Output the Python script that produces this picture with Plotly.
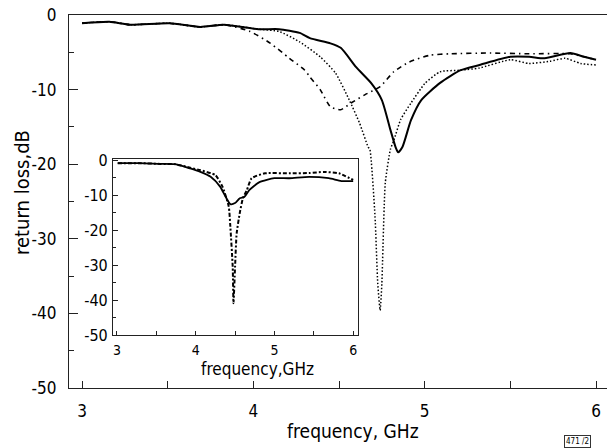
import plotly.graph_objects as go

# ---------------- data ----------------
# main chart
solid_x = [3.00, 3.16, 3.28, 3.51, 3.69, 3.83, 4.03, 4.15, 4.27, 4.33, 4.45, 4.51, 4.60, 4.69, 4.75, 4.80, 4.83, 4.845, 4.87, 4.92, 4.98, 5.09, 5.21, 5.32, 5.50, 5.61, 5.70, 5.85, 5.93, 6.00]
solid_y = [-1.1, -0.9, -1.3, -1.1, -1.6, -1.3, -1.9, -1.9, -2.4, -3.1, -3.8, -4.4, -7.0, -9.2, -11.4, -15.4, -17.7, -18.4, -17.7, -14.1, -11.4, -9.1, -7.4, -6.7, -5.6, -5.6, -5.8, -5.1, -5.6, -6.0]

dot_x = [3.00, 3.16, 3.28, 3.51, 3.69, 3.83, 4.03, 4.15, 4.27, 4.39, 4.48, 4.56, 4.62, 4.67, 4.68, 4.71, 4.726, 4.74, 4.75, 4.77, 4.80, 4.82, 4.86, 4.92, 5.00, 5.09, 5.21, 5.32, 5.50, 5.61, 5.73, 5.82, 5.91, 6.00]
dot_y = [-1.1, -0.9, -1.3, -1.1, -1.6, -1.3, -1.9, -2.2, -3.6, -5.6, -7.8, -11.4, -14.5, -17.7, -18.0, -27.0, -36.0, -39.6, -36.0, -22.5, -18.0, -16.8, -14.0, -11.8, -9.2, -7.6, -7.4, -7.1, -6.0, -6.5, -6.2, -5.8, -6.5, -6.7]

dd_x = [3.00, 3.16, 3.28, 3.51, 3.69, 3.83, 3.98, 4.10, 4.21, 4.30, 4.33, 4.39, 4.45, 4.51, 4.57, 4.65, 4.74, 4.82, 4.91, 5.03, 5.15, 5.38, 5.61, 5.85, 5.93, 6.00]
dd_y = [-1.1, -0.9, -1.3, -1.1, -1.6, -1.3, -2.2, -3.8, -5.8, -7.4, -8.3, -10.0, -12.3, -12.7, -11.8, -10.7, -9.6, -7.6, -6.3, -5.4, -5.2, -5.1, -5.2, -5.2, -5.6, -6.0]

# inset chart
in_solid_x = [3.01, 3.29, 3.55, 3.74, 3.93, 4.06, 4.19, 4.31, 4.38, 4.44, 4.50, 4.56, 4.62, 4.68, 4.81, 5.00, 5.19, 5.44, 5.69, 5.85, 6.00]
in_solid_y = [-0.9, -0.9, -1.1, -1.2, -2.4, -3.4, -4.8, -7.6, -10.5, -12.6, -12.3, -10.9, -10.5, -8.6, -6.3, -5.2, -5.2, -4.8, -5.2, -6.0, -6.0]

in_dash_x = [3.01, 3.29, 3.55, 3.74, 3.93, 4.06, 4.25, 4.34, 4.42, 4.44, 4.47, 4.48, 4.50, 4.52, 4.56, 4.60, 4.65, 4.71, 4.88, 5.19, 5.44, 5.63, 5.82, 6.00]
in_dash_y = [-0.9, -0.9, -1.1, -1.2, -2.2, -2.9, -4.3, -7.6, -13.3, -19.0, -30.5, -40.9, -30.5, -21.0, -15.1, -10.9, -8.6, -5.2, -3.8, -3.8, -3.7, -3.4, -3.8, -5.7]

main_x_ticks = [3, 4, 5, 6]
main_x_labels = ["3", "4", "5", "6"]
y_ticks = [0, -10, -20, -30, -40, -50]
y_labels = ["0", "-10", "-20", "-30", "-40", "-50"]

FONT = "DejaVu Sans Condensed, Liberation Sans Narrow, Roboto, sans-serif"

fig = go.Figure()
fig.add_trace(go.Scatter(x=solid_x, y=solid_y, mode="lines", line=dict(color="black", width=2, shape="spline", smoothing=0.6), showlegend=False))
fig.add_trace(go.Scatter(x=dot_x, y=dot_y, mode="lines", line=dict(color="black", width=1.5, dash="1.5px,2px", shape="spline", smoothing=0.5), showlegend=False))
fig.add_trace(go.Scatter(x=dd_x, y=dd_y, mode="lines", line=dict(color="black", width=1.6, dash="5px,4px,1.5px,4px", shape="spline", smoothing=0.6), showlegend=False))

fig.add_trace(go.Scatter(x=in_solid_x, y=in_solid_y, xaxis="x2", yaxis="y2", mode="lines", line=dict(color="black", width=1.8, shape="spline", smoothing=0.6), showlegend=False))
fig.add_trace(go.Scatter(x=in_dash_x, y=in_dash_y, xaxis="x2", yaxis="y2", mode="lines", line=dict(color="black", width=2, dash="4px,2px,2px,2px", shape="spline", smoothing=0.5), showlegend=False))

axis_common = dict(showgrid=False, zeroline=False, showline=True, linecolor="#222", linewidth=1.2, automargin=False,
                   ticks="inside", tickcolor="#222", tickfont=dict(family=FONT, size=17, color="black"))

fig.update_layout(
    width=607, height=448,
    margin=dict(l=69, r=0, t=15, b=60, autoexpand=False),
    paper_bgcolor="white", plot_bgcolor="white",
    font=dict(family=FONT, color="black"),
    xaxis=dict(**axis_common, range=[2.924, 6.064], tickvals=main_x_ticks, ticktext=main_x_labels,
               ticklen=7, mirror=True, ticklabelstandoff=7,
               minor=dict(dtick=0.5, tick0=3, ticks="inside", ticklen=7, tickcolor="#222")),
    yaxis=dict(**axis_common, range=[-50, 0], tickvals=y_ticks, ticktext=y_labels,
               ticklen=9, ticklabelstandoff=8,
               minor=dict(dtick=5, tick0=0, ticks="inside", ticklen=5, tickcolor="#222")),
    xaxis2=dict(showgrid=False, zeroline=False, showline=True, linecolor="#222", linewidth=1.2, mirror=True,
                ticks="inside", tickcolor="#222", ticklen=4, anchor="y2", automargin=False,
                domain=[0.0818, 0.537], range=[2.95, 6.06], tickvals=main_x_ticks, ticktext=main_x_labels,
                tickfont=dict(family=FONT, size=14, color="black"), ticklabelstandoff=2,
                minor=dict(dtick=0.5, tick0=3, ticks="inside", ticklen=4, tickcolor="#222")),
    yaxis2=dict(showgrid=False, zeroline=False, showline=True, linecolor="#222", linewidth=1.2, mirror=True,
                ticks="inside", tickcolor="#222", ticklen=5, anchor="x2", automargin=False,
                domain=[0.142, 0.614], range=[-50, 0.3], tickvals=y_ticks, ticktext=y_labels,
                tickfont=dict(family=FONT, size=16, color="black"), ticklabelstandoff=1,
                minor=dict(dtick=5, tick0=0, ticks="inside", ticklen=3, tickcolor="#222")),
    shapes=[dict(type="rect", xref="x2 domain", yref="y2 domain", x0=0, x1=1, y0=0, y1=1,
                 fillcolor="white", line=dict(width=0), layer="below")],
    annotations=[
        dict(text="return loss,dB", xref="paper", yref="paper", x=-0.0874, y=0.5255, textangle=-90,
             showarrow=False, xanchor="center", yanchor="middle", font=dict(family=FONT, size=20)),
        dict(text="frequency, GHz", xref="paper", yref="paper", x=0.528, y=(388 - 431) / 373,
             showarrow=False, xanchor="center", yanchor="middle", font=dict(family=FONT, size=19)),
        dict(text="frequency,GHz", xref="paper", yref="paper", x=0.351, y=(388 - 369) / 373,
             showarrow=False, xanchor="center", yanchor="middle", font=dict(family=FONT, size=17)),
        dict(text="471 /2", xref="paper", yref="paper", x=(577 - 69) / 538, y=(388 - 441) / 373,
             showarrow=False, xanchor="center", yanchor="middle", font=dict(family=FONT, size=8),
             bordercolor="#333", borderwidth=1, borderpad=1),
    ],
)

fig.write_html("out.html", config={"displayModeBar": False},
               post_script="document.body.style.margin='0px';document.body.style.padding='0px';")
